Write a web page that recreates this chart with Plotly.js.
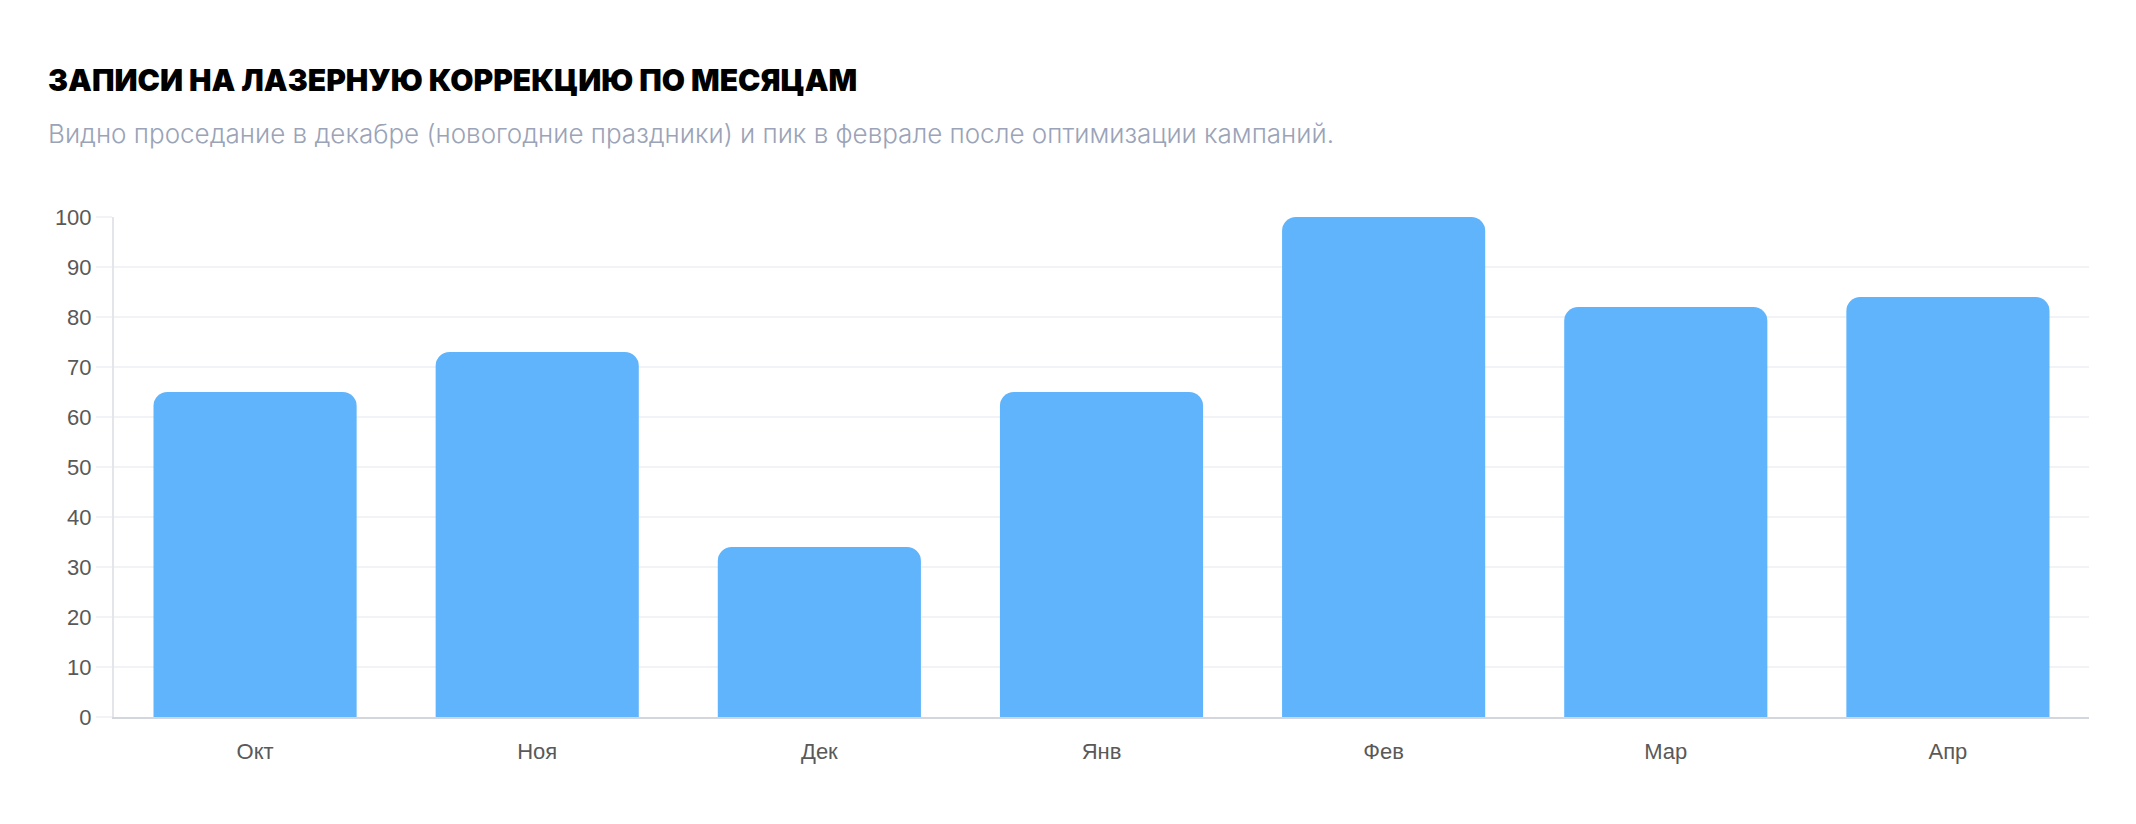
<!DOCTYPE html>
<html>
<head>
<meta charset="utf-8">
<script src="https://cdn.plot.ly/plotly-3.0.1.min.js"></script>
<style>
html,body{margin:0;padding:0;background:#fff;}
#chart{width:2136px;height:824px;}
</style>
</head>
<body>
<div id="chart"></div>
<script>
const months = ["Окт", "Ноя", "Дек", "Янв", "Фев", "Мар", "Апр"];
const bookings = [65, 73, 34, 65, 100, 82, 84];
const yTicks = [0, 10, 20, 30, 40, 50, 60, 70, 80, 90, 100];
const titleText = "ЗАПИСИ НА ЛАЗЕРНУЮ КОРРЕКЦИЮ ПО МЕСЯЦАМ";
const subtitleText = "Видно проседание в декабре (новогодние праздники) и пик в феврале после оптимизации кампаний.";

const W = 2136, H = 824;
const trace = {
  type: "bar",
  x: months,
  y: bookings,
  marker: { color: "#60B4FB", cornerradius: 14, line: { width: 0 } },
  hoverinfo: "x+y"
};

const layout = {
  width: W, height: H,
  margin: { l: 114, r: 47, t: 217, b: 107, pad: 0 },
  paper_bgcolor: "#ffffff",
  plot_bgcolor: "#ffffff",
  bargap: 0.28,
  showlegend: false,
  font: { family: "Liberation Sans, Arial, sans-serif", color: "#595959", size: 22 },
  xaxis: {
    type: "category",
    range: [-0.5, 6.5],
    showgrid: false,
    showline: true, linecolor: "#d3d6dc", linewidth: 2,
    ticks: "", ticklabelstandoff: 14,
    tickfont: { size: 22, color: "#595959" },
    zeroline: false, fixedrange: true
  },
  yaxis: {
    range: [0, 100],
    tickvals: yTicks,
    showgrid: true, gridcolor: "#f1f3f7", gridwidth: 2,
    showline: true, linecolor: "#e3e5e9", linewidth: 2,
    ticks: "outside", ticklen: 16, tickcolor: "#f1f3f7", tickwidth: 2,
    tickfont: { size: 22, color: "#595959" },
    zeroline: false, fixedrange: true
  },
  annotations: [
    {
      text: titleText,
      xref: "paper", yref: "paper",
      x: (46 - 114) / (W - 114 - 47), y: 1 + (217 - 80) / (H - 217 - 107),
      xanchor: "left", yanchor: "middle", showarrow: false,
      font: { family: "Inter, Noto Sans, sans-serif", size: 30, weight: 900, color: "#000000" }
    },
    {
      text: subtitleText,
      xref: "paper", yref: "paper",
      x: (46 - 114) / (W - 114 - 47), y: 1 + (217 - 133) / (H - 217 - 107),
      xanchor: "left", yanchor: "middle", showarrow: false,
      font: { family: "Inter, Noto Sans, sans-serif", size: 26, weight: 300, color: "#9aa3b8" }
    }
  ]
};

Plotly.newPlot("chart", [trace], layout, { displayModeBar: false });
</script>
</body>
</html>
